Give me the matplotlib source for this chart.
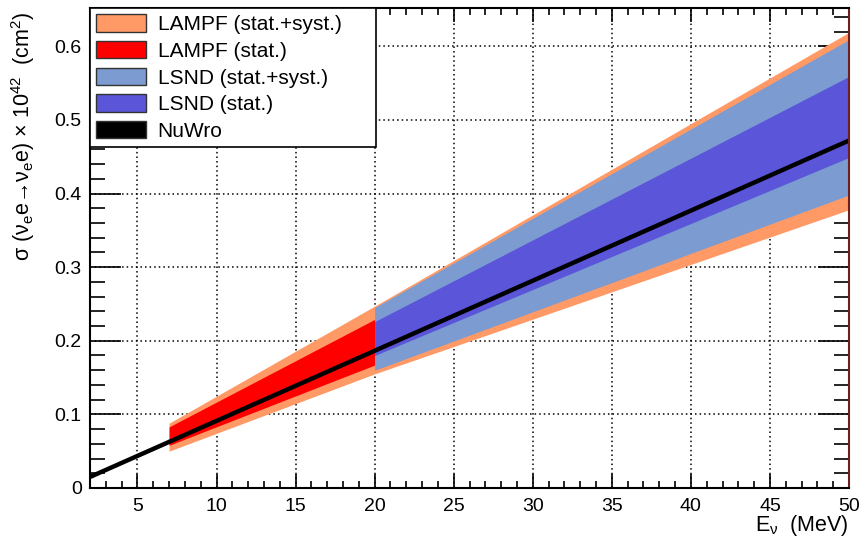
import numpy as np
import matplotlib.pyplot as plt
from matplotlib.ticker import MultipleLocator, FixedLocator
from matplotlib.patches import Patch

plt.rcParams['font.family'] = ['Liberation Sans', 'DejaVu Sans']
plt.rcParams['mathtext.fontset'] = 'custom'
plt.rcParams['mathtext.rm'] = 'Liberation Sans'
plt.rcParams['mathtext.it'] = 'Liberation Sans:italic'

# datos
lampf_x = [7, 20, 50]
lampf_sys_hi = [0.088, 0.247, 0.619]
lampf_sys_lo = [0.050, 0.155, 0.378]

lampf_stat_x = [7, 20]
lampf_stat_hi = [0.083, 0.229]
lampf_stat_lo = [0.058, 0.167]

lsnd_x = [20, 50]
lsnd_sys_hi = [0.245, 0.609]
lsnd_sys_lo = [0.160, 0.398]
lsnd_stat_hi = [0.226, 0.559]
lsnd_stat_lo = [0.180, 0.449]

nuwro_x = [2, 50]
nuwro_y = [0.015, 0.472]

x_ticks = [5, 10, 15, 20, 25, 30, 35, 40, 45, 50]
y_ticks = [0, 0.1, 0.2, 0.3, 0.4, 0.5, 0.6]
y_labels = ["0", "0.1", "0.2", "0.3", "0.4", "0.5", "0.6"]

c_lampf_sys = '#ff9a66'
c_lampf_stat = '#ff0000'
c_lsnd_sys = '#7b9bd1'
c_lsnd_stat = '#5a55d9'

fig = plt.figure(figsize=(8.61, 5.42), dpi=100)
ax = fig.add_axes([90/861, 54/542, 759/861, 480/542])

ax.fill_between(lampf_x, lampf_sys_lo, lampf_sys_hi, color=c_lampf_sys, lw=0)
ax.fill_between(lampf_stat_x, lampf_stat_lo, lampf_stat_hi, color=c_lampf_stat, lw=0)
ax.fill_between(lsnd_x, lsnd_sys_lo, lsnd_sys_hi, color=c_lsnd_sys, lw=0)
ax.fill_between(lsnd_x, lsnd_stat_lo, lsnd_stat_hi, color=c_lsnd_stat, lw=0)
ax.plot(nuwro_x, nuwro_y, color='black', lw=3.2, solid_capstyle='butt')

ax.set_xlim(2, 50)
ax.set_ylim(0, 0.652)

ax.xaxis.set_major_locator(FixedLocator(x_ticks))
ax.xaxis.set_minor_locator(MultipleLocator(1))
ax.set_yticks(y_ticks)
ax.set_yticklabels(y_labels)
ax.yaxis.set_minor_locator(MultipleLocator(0.02))

ax.tick_params(which='both', direction='in', top=True, right=True, labelsize=14, width=1.2)
ax.tick_params(axis='x', which='major', length=10, pad=7)
ax.tick_params(axis='x', which='minor', length=5)
ax.tick_params(axis='y', which='major', length=22, pad=6)
ax.tick_params(axis='y', which='minor', length=11)

ax.set_axisbelow(True)
ax.grid(True, which='major', color='black', linestyle=(0, (1, 2)), linewidth=1.1)

for s in ax.spines.values():
    s.set_linewidth(1.5)
ax.spines['right'].set_color('#6e1e1e')

ax.set_ylabel("σ (ν$_{\\mathrm{e}}$e→ν$_{\\mathrm{e}}$e) × 10$^{42}$  (cm$^{2}$)", fontsize=15.5)
ax.yaxis.set_label_coords(-0.07, 0.733)
ax.set_xlabel("E$_{\\mathrm{ν}}$  (MeV)", fontsize=15.5, ha='right')
ax.xaxis.set_label_coords(1.0, -0.052)

handles = [
    Patch(facecolor=c_lampf_sys, edgecolor='#333333', label='LAMPF (stat.+syst.)'),
    Patch(facecolor=c_lampf_stat, edgecolor='#333333', label='LAMPF (stat.)'),
    Patch(facecolor=c_lsnd_sys, edgecolor='#333333', label='LSND (stat.+syst.)'),
    Patch(facecolor=c_lsnd_stat, edgecolor='#333333', label='LSND (stat.)'),
    Patch(facecolor='black', edgecolor='#333333', label='NuWro'),
]
leg = ax.legend(handles=handles, loc='upper left', bbox_to_anchor=(0, 0.7125, 0.377, 0.2875),
                mode='expand', borderaxespad=0, fontsize=15, handlelength=2.4,
                handleheight=0.9, labelspacing=0.33, handletextpad=0.55,
                borderpad=0.3, fancybox=False, framealpha=1, edgecolor='black')
leg.get_frame().set_linewidth(1.2)

fig.savefig('out.png', dpi=100)
